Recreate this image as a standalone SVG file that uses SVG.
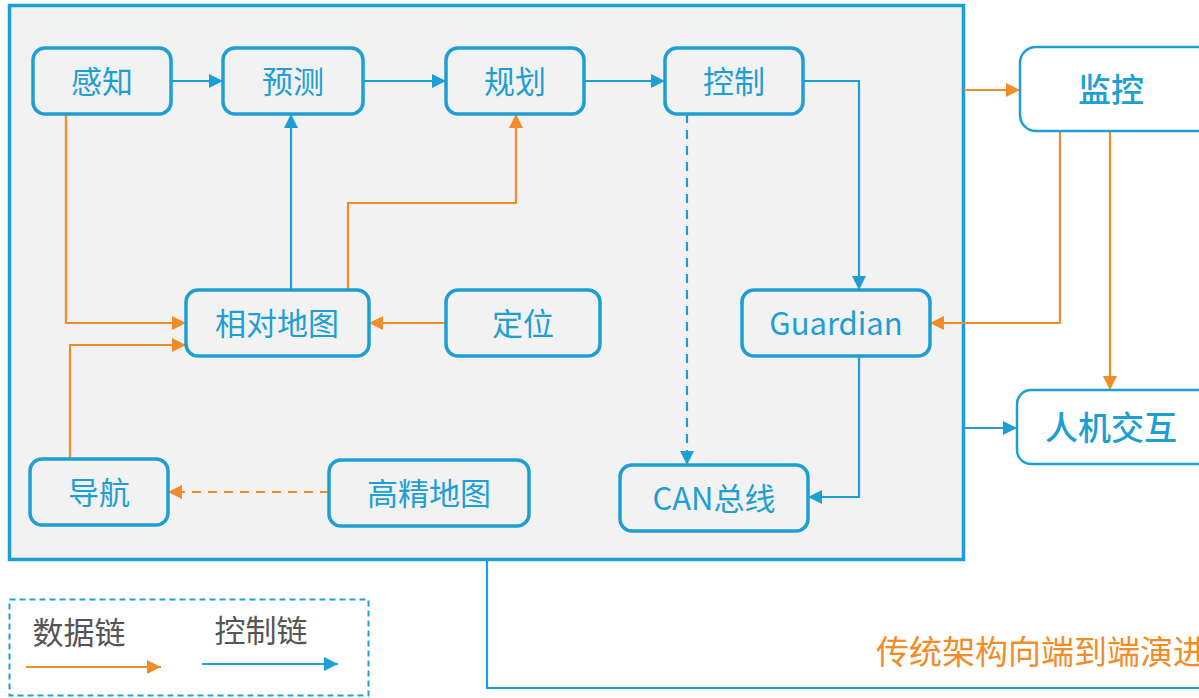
<svg xmlns="http://www.w3.org/2000/svg" width="1199" height="698" viewBox="0 0 1199 698">
<style>
.node rect{fill:none;stroke:#1e9fd4;stroke-width:3.5}
.outer rect{fill:#fff;stroke:#1e9fd4;stroke-width:2.5}
text{font-family:"Noto Sans CJK SC","Noto Sans",sans-serif;font-size:31px;text-anchor:middle;dominant-baseline:central}
.node text,.outer text{fill:#1e9fd4}
.outer text{font-weight:500;font-size:33px}
.b{fill:none;stroke:#1e9fd4;stroke-width:2.2}
.o{fill:none;stroke:#f28c28;stroke-width:2.2}
.d{stroke-dasharray:9 7}
</style>
<defs>
<marker id="ab" viewBox="0 0 10 10" refX="10" refY="5" markerWidth="15" markerHeight="14" markerUnits="userSpaceOnUse" orient="auto"><path d="M0,0L10,5L0,10z" fill="#1e9fd4"/></marker>
<marker id="ao" viewBox="0 0 10 10" refX="10" refY="5" markerWidth="15" markerHeight="14" markerUnits="userSpaceOnUse" orient="auto"><path d="M0,0L10,5L0,10z" fill="#f28c28"/></marker>
</defs>
<rect x="9.5" y="5.5" width="954" height="554" fill="#f2f2f2" stroke="#1e9fd4" stroke-width="3.5"/>
<g id="connectors">
<path class="b" d="M171,81H223" marker-end="url(#ab)"/>
<path class="b" d="M363,81H446" marker-end="url(#ab)"/>
<path class="b" d="M584,81H665" marker-end="url(#ab)"/>
<path class="b" d="M803,81H859V290" marker-end="url(#ab)"/>
<path class="b d" d="M687,114V465" marker-end="url(#ab)"/>
<path class="b" d="M859,356V497H808" marker-end="url(#ab)"/>
<path class="b" d="M291,290V114" marker-end="url(#ab)"/>
<path class="o" d="M348,290V203H516V114" marker-end="url(#ao)"/>
<path class="o" d="M446,323H369" marker-end="url(#ao)"/>
<path class="o" d="M66,114V323H186" marker-end="url(#ao)"/>
<path class="o" d="M70,459V345H186" marker-end="url(#ao)"/>
<path class="o d" d="M329,492H168" marker-end="url(#ao)"/>
<path class="o" d="M964,90H1020" marker-end="url(#ao)"/>
<path class="o" d="M1060,131V323H930" marker-end="url(#ao)"/>
<path class="o" d="M1110,131V390" marker-end="url(#ao)"/>
<path class="b" d="M964,428H1017" marker-end="url(#ab)"/>
<path class="b" d="M487,560V688H1199" stroke-width="2.5"/>
</g>
<g id="n-ganzhi" class="node"><rect x="33" y="48" width="138" height="66" rx="12"/><text x="102" y="79">感知</text></g>
<g id="n-yuce" class="node"><rect x="223" y="48" width="140" height="66" rx="12"/><text x="293" y="79">预测</text></g>
<g id="n-guihua" class="node"><rect x="446" y="48" width="138" height="66" rx="12"/><text x="515" y="79">规划</text></g>
<g id="n-kongzhi" class="node"><rect x="665" y="48" width="138" height="66" rx="12"/><text x="734" y="79">控制</text></g>
<g id="n-xiangdui" class="node"><rect x="186" y="290" width="183" height="66" rx="12"/><text x="277" y="321">相对地图</text></g>
<g id="n-dingwei" class="node"><rect x="446" y="290" width="154" height="66" rx="12"/><text x="523" y="321">定位</text></g>
<g id="n-guardian" class="node"><rect x="742" y="290" width="188" height="66" rx="12"/><text x="836" y="321">Guardian</text></g>
<g id="n-daohang" class="node"><rect x="30" y="459" width="138" height="66" rx="12"/><text x="99" y="490">导航</text></g>
<g id="n-gaojing" class="node"><rect x="329" y="460" width="200" height="66" rx="12"/><text x="429" y="491">高精地图</text></g>
<g id="n-can" class="node"><rect x="620" y="465" width="188" height="66" rx="12"/><text x="714" y="496">CAN总线</text></g>
<g id="n-jiankong" class="outer"><rect x="1020" y="47" width="200" height="84" rx="16"/><text x="1111" y="88">监控</text></g>
<g id="n-renji" class="outer"><rect x="1017" y="390" width="200" height="74" rx="14"/><text x="1111" y="426">人机交互</text></g>
<g id="legend">
<rect x="9.5" y="599.5" width="359" height="96" fill="none" stroke="#1e9fd4" stroke-width="2" stroke-dasharray="6 4"/>
<text x="79" y="630" fill="#555">数据链</text>
<text x="261" y="628" fill="#555">控制链</text>
<path class="o" d="M26,667H161" marker-end="url(#ao)" stroke-width="2.5"/>
<path class="b" d="M202,664H338" marker-end="url(#ab)" stroke-width="2.5"/>
</g>
<text x="876" y="650" fill="#f28c28" style="text-anchor:start;font-size:33px">传统架构向端到端演进</text>
</svg>
